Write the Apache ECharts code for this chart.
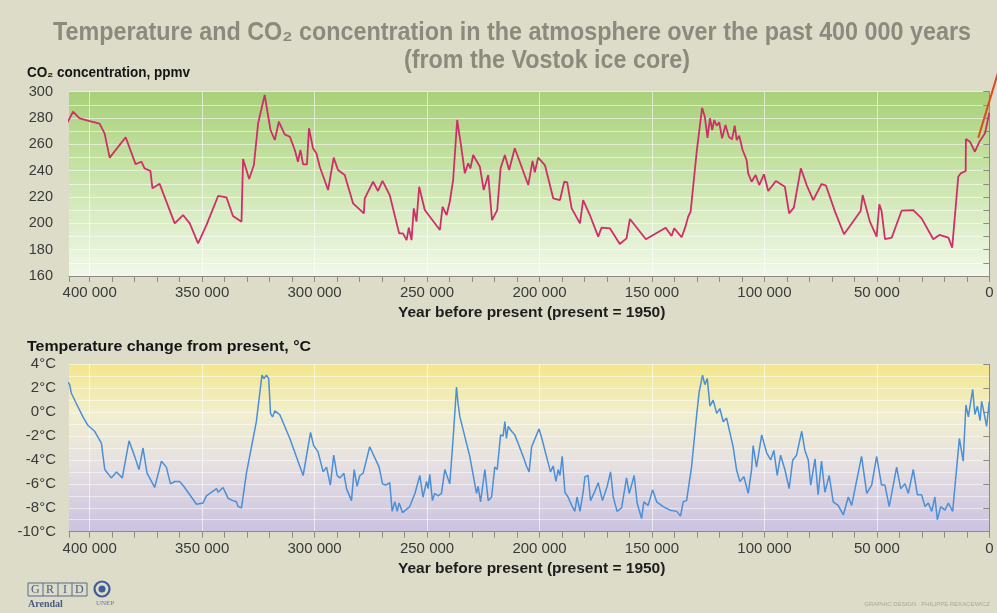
<!DOCTYPE html>
<html>
<head>
<meta charset="utf-8">
<script src="https://cdn.jsdelivr.net/npm/echarts@6/dist/echarts.min.js"></script>
<style>
  html, body { margin: 0; padding: 0; background: #dcdcc9; }
  #chart { width: 997px; height: 613px; }
</style>
</head>
<body>
<div id="chart"></div>
<script>
// Vostok ice core: CO2 (ppmv) by year before present
const co2Record = [
  [410100,276],[407400,284.8],[404500,279.8],[400000,277.7],[395600,275.7],[393400,268.4],[391100,249.9],
  [384000,265.4],[379600,245],[377000,246.8],[375600,241.8],[373000,239.8],[372100,226.6],[368900,230],
  [362200,200],[358500,206.3],[355500,200],[351800,184.8],[348100,198.7],[342900,220.8],[339200,219.8],
  [336300,205.6],[332500,201.3],[331800,248.9],[329100,233.7],[327000,244.3],[325100,276],[322200,297.5],
  [319600,270.9],[317700,263.3],[315900,277.2],[313300,267.6],[311000,265.8],[308800,255.7],[307400,246.8],
  [306300,255.7],[305100,244.8],[303400,244.8],[302500,272.2],[300700,257],[299200,253.2],[297700,243],
  [294000,225.3],[291500,249.9],[289600,240.5],[286600,236.7],[282900,215.2],[278100,207.6],[277700,219],
  [274000,231.6],[271800,224.6],[269800,232.2],[266600,221.5],[262400,192.4],[260700,192.4],[259100,187.3],
  [258100,196.7],[256900,187.3],[255900,211.4],[254700,201.3],[253500,227.8],[251000,210.1],[244300,195],
  [243100,212.6],[241300,206.3],[239900,216.4],[238400,232.9],[236600,278.5],[234700,257],[233200,238],
  [231700,245.6],[230700,241.8],[229500,251.9],[226500,243],[224800,225.3],[222800,236.7],[221100,202.5],
  [218800,210.1],[217300,241.8],[215400,251.9],[213500,240.5],[211000,257],[208700,246.4],[205000,229.1],
  [203100,247.4],[202100,238.8],[200600,249.9],[197600,244.3],[193900,219],[190900,217.7],[189000,231.6],
  [187700,231.2],[185700,211.4],[182000,200],[180600,217.7],[177600,206.3],[173900,189.9],[172400,196.7],
  [168700,196.2],[164300,184.3],[161300,188.6],[159800,203.3],[152700,187.9],[143900,196.7],[141300,190.4],
  [140100,196.2],[136800,189.4],[135100,197.5],[133900,205],[132800,208.9],[130100,254.4],[127700,287.8],
  [126500,281],[125300,265],[124200,279.8],[123200,270.9],[122300,278.5],[121200,274.2],[120100,276.8],
  [118800,264.6],[117300,274.7],[115800,265.8],[114400,263.8],[113200,274.2],[112300,263.3],[111200,266.6],
  [109700,255.7],[107900,248.1],[107200,238],[105700,231.6],[103900,236.7],[102300,229.1],[100200,237.3],
  [98300,224.6],[94900,232.2],[90900,227.8],[89000,207.6],[86900,211.9],[83800,241.8],[81200,229.1],
  [78300,217.7],[74600,229.9],[72600,228.6],[68600,208.9],[64600,191.7],[57200,209.4],[56300,221.5],
  [53100,201.3],[50100,189.9],[48900,214.5],[47900,209.4],[46400,188.1],[43400,189.1],[39000,209.6],
  [33800,210.1],[30100,203.8],[24900,187.9],[22200,191.2],[18200,189.1],[16500,181.5],[13800,235.4],
  [12700,238],[10500,239.8],[10400,264.1],[8600,262],[6400,254.4],[4400,262],[1900,268.4],[0,284]
];

// Temperature change from present (°C) by year before present
const tempRecord = [
  [409700,2.5],[408900,2.3],[408200,1.6],[405900,0.7],[403000,-0.4],[400800,-1.1],[397800,-1.6],[394800,-2.6],
  [393300,-4.8],[390400,-5.5],[388100,-5.0],[385500,-5.5],[382500,-2.4],[380000,-3.7],[378100,-4.8],[376300,-3.0],
  [374500,-5.1],[371100,-6.3],[368100,-4.1],[365900,-4.6],[364100,-6.0],[362200,-5.8],[360000,-5.8],[358200,-6.2],
  [352500,-7.7],[349600,-7.6],[348100,-7.0],[343600,-6.4],[342900,-6.7],[340700,-6.3],[339200,-6.9],[338500,-7.2],
  [336300,-7.4],[334800,-7.5],[334000,-7.9],[332500,-8.0],[330300,-5.1],[325900,-0.8],[323400,3.1],[322500,2.8],
  [321400,3.1],[320400,2.8],[319600,-0.1],[318700,-0.4],[317700,0.1],[315500,-0.2],[311000,-2.2],[305100,-5.3],
  [301800,-1.7],[300400,-2.8],[298500,-3.3],[296200,-5.0],[294700,-4.6],[293000,-6.1],[291500,-3.6],[290000,-5.3],
  [288800,-5.5],[287000,-5.1],[285800,-6.4],[283600,-7.4],[282400,-4.8],[281100,-6.2],[279900,-5.3],[278400,-5.1],
  [275500,-2.9],[271300,-4.6],[269800,-6.0],[268400,-6.1],[266600,-5.9],[265500,-8.3],[264300,-7.5],[263300,-8.3],
  [262400,-7.6],[260900,-8.4],[257700,-7.9],[255400,-6.8],[253200,-5.3],[251800,-7.1],[250200,-5.8],[249500,-6.4],
  [248800,-5.2],[247600,-7.4],[246600,-6.8],[245100,-7.0],[243600,-6.8],[242100,-4.8],[239900,-6.0],[238400,-2.2],
  [236900,2.1],[236200,0.7],[235400,-0.4],[231000,-3.7],[228000,-6.8],[227300,-6.2],[226200,-7.5],[224300,-4.8],
  [222800,-7.4],[221300,-7.1],[219900,-4.6],[218800,-4.8],[217300,-1.9],[216200,-2.0],[215400,-0.8],[214700,-2.2],
  [213900,-1.2],[212400,-1.6],[211000,-1.9],[209500,-2.6],[207300,-3.7],[205800,-4.5],[204600,-5.0],[203500,-2.9],
  [200200,-1.4],[199100,-2.1],[196900,-3.7],[195100,-5.0],[193900,-4.5],[192700,-5.8],[191700,-4.8],[190900,-5.3],
  [189900,-3.7],[188700,-6.7],[187300,-7.1],[185700,-7.8],[184300,-8.3],[183300,-7.1],[182000,-8.3],[180600,-6.7],
  [179800,-5.4],[178400,-5.3],[177300,-7.4],[175800,-6.8],[173900,-5.9],[172000,-7.4],[169900,-6.2],[168400,-5.0],
  [167200,-7.1],[165500,-8.3],[163500,-8.0],[161300,-5.5],[160100,-6.8],[157900,-5.3],[156600,-7.6],[154600,-8.9],
  [153600,-7.5],[151700,-7.8],[149700,-6.5],[147900,-7.5],[145000,-7.9],[142000,-8.2],[139000,-8.3],[137300,-8.7],
  [136100,-7.5],[134600,-7.4],[132400,-4.6],[130100,-0.2],[129000,1.7],[127500,3.1],[126500,2.3],[125400,2.8],
  [124200,0.5],[122800,1.0],[121200,-0.1],[119800,0.3],[118300,-0.8],[116800,-0.5],[115600,-1.5],[113900,-2.9],
  [112400,-4.8],[110900,-5.8],[109100,-5.4],[107200,-6.8],[105700,-4.8],[105000,-2.8],[103500,-4.6],[101200,-1.9],
  [99000,-3.4],[97200,-4.0],[95800,-3.2],[94300,-5.3],[92800,-3.6],[90900,-4.8],[89000,-6.4],[87400,-4.0],
  [85700,-3.6],[83400,-1.6],[82000,-3.2],[80500,-4.0],[79400,-6.1],[77500,-3.9],[76100,-6.9],[74600,-4.1],
  [73100,-6.7],[71200,-5.3],[69400,-7.5],[67200,-7.8],[64900,-8.6],[62700,-7.1],[61200,-7.8],[56800,-3.7],
  [54500,-6.8],[52300,-6.1],[50100,-3.7],[47900,-6.1],[46400,-6.1],[44500,-7.9],[41200,-4.6],[39400,-6.4],
  [37500,-6.0],[36000,-6.8],[33800,-4.8],[32000,-6.9],[30100,-6.9],[28600,-7.9],[27100,-7.6],[25600,-8.3],
  [24200,-7.1],[23100,-9.0],[21600,-7.9],[19700,-8.2],[18200,-7.6],[16300,-8.3],[13300,-2.2],[11600,-4.1],
  [10400,0.6],[9300,-0.4],[7400,1.9],[6400,-0.2],[5300,0.5],[4100,-0.7],[3400,0.9],[2200,-0.2],[1200,-1.2],[0,0.9]
];

// Pointer line leaving the CO2 panel towards today's level
const co2Pointer = [[4900, 265], [-4500, 318]];

const yearMin = 0;
const yearMax = 409200;
const yearLabelStep = 50000;
const yearMinorStep = 10000;
const co2Range = [160, 300];
const tempRange = [-10, 4];

const titleLine1 = 'Temperature and CO₂ concentration in the atmosphere over the past 400 000 years';
const titleLine2 = '(from the Vostok ice core)';
const co2AxisTitle = 'CO₂ concentration, ppmv';
const tempAxisTitle = 'Temperature change from present, °C';
const yearAxisTitle = 'Year before present (present = 1950)';

const fmtYear = v => String(v).replace(/\B(?=(\d{3})+(?!\d))/g, ' ');

const AXIS = '#8c8c84';
const LABEL = '#3a3a3a';
const SANS = "'Liberation Sans', Arial, sans-serif";

// text width helper, used to squeeze headings into a condensed look
const measureCtx = document.createElement('canvas').getContext('2d');
function textWidth(text, size, weight) {
  measureCtx.font = (weight || 'normal') + ' ' + size + 'px ' + SANS;
  return measureCtx.measureText(text).width;
}
const titleSize = 25;
const titleScale = 918 / textWidth(titleLine1, titleSize, 'bold');
const co2TitleScale = 163 / textWidth(co2AxisTitle, 14, 'bold');
const tempTitleScale = 284 / textWidth(tempAxisTitle, 14, 'bold');

function yearAxis(gridIndex, margin, gap) {
  return {
    gridIndex, type: 'value', min: yearMin, max: yearMax, inverse: true, interval: yearMinorStep,
    axisLine: { show: true, onZero: false, lineStyle: { color: AXIS, width: 1 } },
    axisTick: { show: true, length: 6, lineStyle: { color: AXIS } },
    axisLabel: {
      formatter: v => (v % yearLabelStep === 0 ? fmtYear(v) : ''),
      color: LABEL, fontSize: 15, fontFamily: SANS, margin
    },
    splitLine: { show: false },
    name: yearAxisTitle,
    nameLocation: 'middle', nameGap: gap,
    nameTextStyle: { fontWeight: 'bold', fontSize: 15.5, color: '#1d1d1d', fontFamily: SANS, padding: [0, 0, 0, 5] }
  };
}
function yearGridAxis(gridIndex) {
  return {
    gridIndex, type: 'value', min: yearMin, max: yearMax, inverse: true, interval: yearLabelStep,
    axisLine: { show: false }, axisTick: { show: false }, axisLabel: { show: false },
    splitLine: { show: true, showMinLine: false, showMaxLine: false,
      lineStyle: { color: 'rgba(255,255,255,0.6)', width: 1 } }
  };
}

function headerText(x, y, text, size, scaleX, fill, align) {
  return { type: 'text', x, y, scaleX, style: {
    text, align: align || 'left', textAlign: align || 'left', verticalAlign: 'middle', textVerticalAlign: 'middle',
    fontSize: size, fontWeight: 'bold', fontFamily: SANS, fill } };
}

const decorations = [
  headerText(512, 33, titleLine1, titleSize, titleScale, '#8b8b7d', 'center'),
  headerText(547, 61, titleLine2, titleSize, titleScale, '#8b8b7d', 'center'),
  headerText(27, 73, co2AxisTitle, 14, co2TitleScale, '#151515'),
  headerText(27, 347, tempAxisTitle, 14, tempTitleScale, '#151515'),
  // GRID-Arendal / UNEP marks
  { type: 'group', x: 28, y: 583, children: [
    { type: 'rect', shape: { x: 0, y: 0, width: 59, height: 13 }, style: { fill: 'none', stroke: '#5a6a8a', lineWidth: 1 } },
    { type: 'line', shape: { x1: 15, y1: 0, x2: 15, y2: 13 }, style: { stroke: '#5a6a8a', lineWidth: 1 } },
    { type: 'line', shape: { x1: 30, y1: 0, x2: 30, y2: 13 }, style: { stroke: '#5a6a8a', lineWidth: 1 } },
    { type: 'line', shape: { x1: 44, y1: 0, x2: 44, y2: 13 }, style: { stroke: '#5a6a8a', lineWidth: 1 } },
    { type: 'text', x: 3, y: 1, style: { text: 'G', fontSize: 12, fontFamily: "'Liberation Serif', serif", fill: '#4b5b80' } },
    { type: 'text', x: 18, y: 1, style: { text: 'R', fontSize: 12, fontFamily: "'Liberation Serif', serif", fill: '#4b5b80' } },
    { type: 'text', x: 35, y: 1, style: { text: 'I', fontSize: 12, fontFamily: "'Liberation Serif', serif", fill: '#4b5b80' } },
    { type: 'text', x: 47, y: 1, style: { text: 'D', fontSize: 12, fontFamily: "'Liberation Serif', serif", fill: '#4b5b80' } },
    { type: 'text', x: 0, y: 16, style: { text: 'Arendal', fontSize: 10, fontWeight: 'bold',
        fontFamily: "'Liberation Serif', serif", fill: '#4b5b80' } },
    { type: 'circle', shape: { cx: 74, cy: 6, r: 7.5 }, style: { fill: 'none', stroke: '#3d5d9a', lineWidth: 2.2 } },
    { type: 'circle', shape: { cx: 74, cy: 6, r: 3.5 }, style: { fill: '#3d5d9a' } },
    { type: 'text', x: 68, y: 17, style: { text: 'UNEP', fontSize: 7, fontFamily: "'Liberation Serif', serif", fill: '#6a7aa0' } }
  ] },
  { type: 'text', x: 990, y: 604, style: {
      text: 'GRAPHIC DESIGN : PHILIPPE REKACEWICZ', align: 'right', textAlign: 'right',
      verticalAlign: 'middle', textVerticalAlign: 'middle',
      fontSize: 6, fontFamily: SANS, fill: '#a9a996' } }
];

const chart = echarts.init(document.getElementById('chart'), null, { renderer: 'canvas' });

chart.setOption({
  backgroundColor: '#dcdcc9',
  animation: false,
  grid: [
    { left: 69, right: 7.7, top: 91.7, height: 184.3, show: true, borderWidth: 0,
      backgroundColor: { type: 'linear', x: 0, y: 0, x2: 0, y2: 1, colorStops: [
        { offset: 0, color: '#a8d07a' }, { offset: 0.45, color: '#c9e4aa' }, { offset: 1, color: '#f2f8ea' } ] } },
    { left: 69, right: 7.7, top: 364.3, height: 167.4, show: true, borderWidth: 0,
      backgroundColor: { type: 'linear', x: 0, y: 0, x2: 0, y2: 1, colorStops: [
        { offset: 0, color: '#f3e68a' }, { offset: 0.3, color: '#f1efcf' }, { offset: 0.6, color: '#e6e0e2' },
        { offset: 1, color: '#cbc2e0' } ] } }
  ],
  xAxis: [yearAxis(0, 9, 28.5), yearGridAxis(0), yearAxis(1, 10, 29.5), yearGridAxis(1)],
  yAxis: [
    { gridIndex: 0, type: 'value', min: co2Range[0], max: co2Range[1], interval: 20,
      axisLine: { show: true, lineStyle: { color: AXIS } },
      axisTick: { show: true, length: 6, lineStyle: { color: AXIS } },
      minorTick: { show: true, splitNumber: 2, length: 6, lineStyle: { color: AXIS } },
      axisLabel: { color: LABEL, fontSize: 14.5, fontFamily: SANS, margin: 16 },
      splitLine: { show: true, lineStyle: { color: 'rgba(255,255,255,0.55)' } },
      minorSplitLine: { show: true, lineStyle: { color: 'rgba(255,255,255,0.55)' } } },
    { gridIndex: 1, type: 'value', min: tempRange[0], max: tempRange[1], interval: 2,
      axisLine: { show: true, lineStyle: { color: AXIS } },
      axisTick: { show: true, length: 6, lineStyle: { color: AXIS } },
      minorTick: { show: false, splitNumber: 2 },
      axisLabel: { color: LABEL, fontSize: 15, fontFamily: SANS, margin: 13, formatter: v => v + '°C' },
      splitLine: { show: true, lineStyle: { color: 'rgba(255,255,255,0.5)' } },
      minorSplitLine: { show: true, lineStyle: { color: 'rgba(255,255,255,0.5)' } } }
  ],
  series: [
    { name: 'CO2', type: 'line', xAxisIndex: 0, yAxisIndex: 0, data: co2Record,
      showSymbol: false, symbol: 'none', lineStyle: { color: '#cf2f68', width: 1.8 } },
    { name: 'Temperature', type: 'line', xAxisIndex: 2, yAxisIndex: 1, data: tempRecord,
      showSymbol: false, symbol: 'none', lineStyle: { color: '#4a8fd8', width: 1.5 } }
  ],
  graphic: decorations
});

// pointer drawn outside the plot clip, positioned through the CO2 panel's scales
const p0 = chart.convertToPixel({ xAxisIndex: 0, yAxisIndex: 0 }, co2Pointer[0]);
const p1 = chart.convertToPixel({ xAxisIndex: 0, yAxisIndex: 0 }, co2Pointer[1]);
chart.setOption({
  graphic: decorations.concat([{ type: 'line', z: 10,
    shape: { x1: p0[0], y1: p0[1], x2: p1[0], y2: p1[1] },
    style: { stroke: '#e2481a', lineWidth: 2 } }])
});
</script>
</body>
</html>
